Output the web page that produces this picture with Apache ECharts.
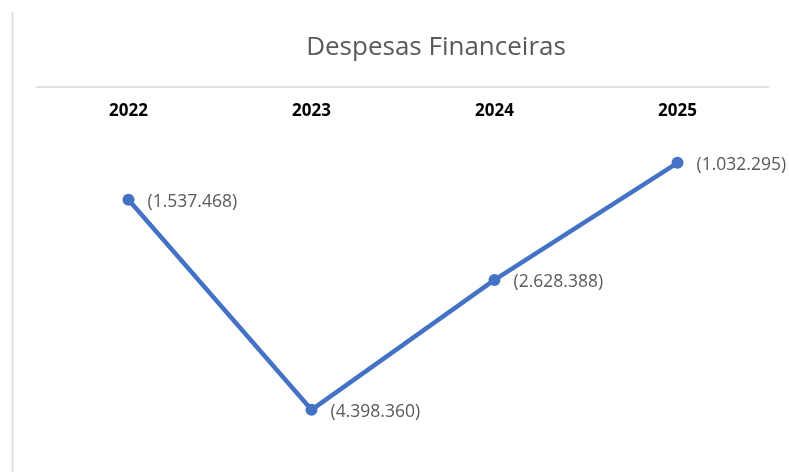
<!DOCTYPE html>
<html>
<head>
<meta charset="utf-8">
<script src="https://cdn.jsdelivr.net/npm/echarts@6/dist/echarts.min.js"></script>
<style>html,body{margin:0;padding:0;background:#fff}#c{width:789px;height:472px}</style>
</head>
<body>
<div id="c"></div>
<script>
const categories = ['2022', '2023', '2024', '2025'];
const values = [-1537468, -4398360, -2628388, -1032295];
const titleText = 'Despesas Financeiras';

function fmt(v) {
  const s = Math.abs(v).toString().replace(/\B(?=(\d{3})+(?!\d))/g, '.');
  return v < 0 ? '(' + s + ')' : s;
}

const chart = echarts.init(document.getElementById('c'));
chart.setOption({
  animation: false,
  backgroundColor: '#fff',
  title: {
    text: titleText,
    left: 431, top: 30, textAlign: 'center',
    textStyle: { fontFamily: 'Open Sans', fontSize: 26, fontWeight: 'normal', color: '#595959' }
  },
  graphic: [{
    type: 'line', shape: { x1: 12.5, y1: 12, x2: 12.5, y2: 472 },
    style: { stroke: '#d9d9d9', lineWidth: 1.5 }
  }],
  grid: { left: 37, right: 20, top: 87, bottom: 18 },
  xAxis: {
    type: 'category', data: categories, position: 'top', boundaryGap: true,
    axisLine: { lineStyle: { color: '#d9d9d9', width: 1.5 } },
    axisTick: { show: false },
    axisLabel: { inside: true, margin: 16, fontFamily: 'Open Sans', fontSize: 17, fontWeight: 'bold', color: '#000' }
  },
  yAxis: { type: 'value', min: -5000000, max: 0, show: false, splitLine: { show: false } },
  series: [{
    type: 'line', data: values,
    symbol: 'circle', symbolSize: 12,
    lineStyle: { color: '#4472C4', width: 4.5 },
    itemStyle: { color: '#4472C4' },
    label: {
      show: true, position: 'right', distance: 13,
      fontFamily: 'Open Sans', fontSize: 17.5, color: '#595959',
      offset: [0, 2],
      formatter: p => fmt(p.value)
    }
  }]
});
</script>
</body>
</html>
